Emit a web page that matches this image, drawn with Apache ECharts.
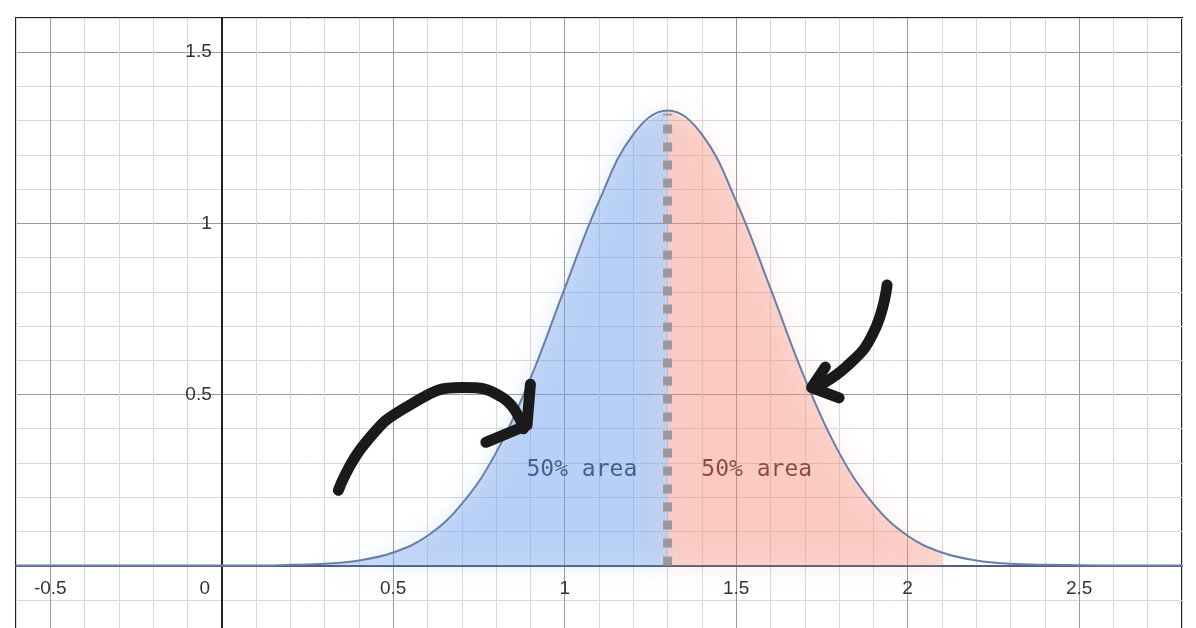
<!DOCTYPE html>
<html><head><meta charset="utf-8">
<script src="https://cdn.jsdelivr.net/npm/echarts@6/dist/echarts.min.js"></script>
<style>html,body{margin:0;background:#fff}#c{width:1196px;height:628px}</style>
</head><body><div id="c"></div>
<script>
const curveX = [-0.6,-0.2,0,0.1,0.2,0.3,0.4,0.5,0.6,0.7,0.8,0.9,1.0,1.1,1.2,1.3,1.4,1.5,1.6,1.7,1.8,1.9,2.0,2.1,2.2,2.3,2.4,2.6,2.8];
const curveY = [0,0,0,0,0.002,0.005,0.015,0.038,0.087,0.18,0.33,0.547,0.81,1.065,1.26,1.33,1.26,1.065,0.81,0.547,0.33,0.18,0.087,0.038,0.015,0.005,0.002,0,0];
const leftArrow = [[0.34,0.22],[0.42,0.36],[0.55,0.47],[0.7,0.52],[0.82,0.49],[0.88,0.4]];
const leftHead = [[0.77,0.36],[0.89,0.41],[0.9,0.53]];
const rightArrow = [[1.94,0.82],[1.9,0.68],[1.82,0.58],[1.73,0.52]];
const rightHead = [[1.76,0.58],[1.72,0.52],[1.8,0.49]];
const labels = [{x:1.05,y:0.28,t:'50% area',c:'#16203a'},{x:1.56,y:0.28,t:'50% area',c:'#3a160c'}];

const pts = curveX.map((x,i)=>[x,curveY[i]]);
const blue = pts.filter(p=>p[0]>=0.3&&p[0]<=1.3);
const red = pts.filter(p=>p[0]>=1.3&&p[0]<=2.1);
const minor='#d9d9d9', major='#9a9a9a';
const fmt = v => { const r=Math.round(v*2)/2; return Math.abs(v-r)<1e-6 ? String(+r.toFixed(1)) : ''; };
const chart = echarts.init(document.getElementById('c'));
const lab = {color:'#333',fontSize:19,fontFamily:'Liberation Sans'};
chart.setOption({
  animation:false,
  grid:{left:16,top:18,width:1166,height:616,outerBoundsMode:'none',containLabel:false,show:true,borderColor:'#222',borderWidth:2},
  xAxis:{type:'value',min:-0.6,max:2.8,interval:0.1,
    axisLine:{onZero:false,lineStyle:{color:'#4a5f85',width:2}},axisTick:{show:false},
    axisLabel:Object.assign({formatter:v=>{const s=fmt(v);return s==='0'?'{z|0}':s;},margin:14,rich:{z:Object.assign({padding:[0,34,0,0]},lab)}},lab),
    splitLine:{lineStyle:{color:[minor,major,minor,minor,minor],width:1}}},
  yAxis:{type:'value',min:-0.2,max:1.6,interval:0.1,
    axisLine:{onZero:false,lineStyle:{color:'#222',width:2}},axisTick:{show:false},
    axisLabel:Object.assign({formatter:v=>Math.abs(v)<1e-6?'':fmt(v),margin:10},lab),
    splitLine:{lineStyle:{color:[minor,minor,major,minor,minor],width:1}}},
  series:[
    {type:'line',data:blue,symbol:'none',smooth:true,lineStyle:{width:0},
     areaStyle:{color:'rgba(110,160,235,0.5)',shadowBlur:25,shadowColor:'rgba(110,160,235,0.6)'}},
    {type:'line',data:red,symbol:'none',smooth:true,lineStyle:{width:0},
     areaStyle:{color:'rgba(245,140,120,0.45)',shadowBlur:25,shadowColor:'rgba(245,140,120,0.6)'}},
    {type:'line',data:[[1.3,0],[1.3,1.32]],symbol:'none',lineStyle:{color:'#999',width:9,type:'dotted'}},
    {type:'line',data:pts,symbol:'none',smooth:0.4,lineStyle:{color:'#6a7fa6',width:2}},
    {type:'line',data:leftArrow,symbol:'none',smooth:true,lineStyle:{color:'#1a1a1a',width:11,cap:'round'}},
    {type:'line',data:leftHead,symbol:'none',lineStyle:{color:'#1a1a1a',width:11,cap:'round',join:'round'}},
    {type:'line',data:rightArrow,symbol:'none',smooth:true,lineStyle:{color:'#1a1a1a',width:11,cap:'round'}},
    {type:'line',data:rightHead,symbol:'none',lineStyle:{color:'#1a1a1a',width:11,cap:'round',join:'round'}},
    ...labels.map(l=>({type:'scatter',symbolSize:1,itemStyle:{color:'rgba(0,0,0,0)'},data:[[l.x,l.y]],
      label:{show:true,position:'inside',formatter:l.t,color:l.c,opacity:1,fontSize:23,fontFamily:'DejaVu Sans Mono'}}))
  ]
});
const o = chart.convertToPixel({gridIndex:0},[0,0]);
const g = chart.getModel().getComponent('grid',0).coordinateSystem.getRect();
chart.setOption({xAxis:{offset:o[1]-(g.y+g.height)},yAxis:{offset:g.x-o[0]}});
</script></body></html>
